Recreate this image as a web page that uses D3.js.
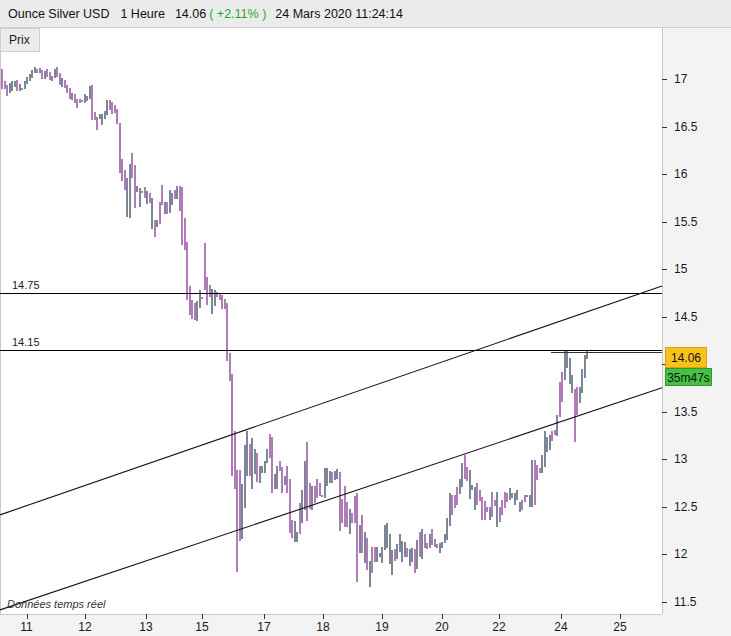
<!DOCTYPE html>
<html><head><meta charset="utf-8">
<script src="https://cdn.jsdelivr.net/npm/d3@7/dist/d3.min.js"></script>
<style>body{margin:0;background:#fff}svg{display:block}</style>
</head><body><svg id="c" width="731" height="636"></svg>
<script>
// Hourly bars: high / low / direction (u = up grey, d = down purple)
const highs = [17.10,16.98,16.94,16.96,16.98,16.98,16.99,16.95,16.91,16.98,17.02,17.05,17.09,17.13,17.10,17.12,17.09,17.08,17.10,17.07,17.03,17.10,17.13,17.06,17.01,16.99,16.94,16.91,16.85,16.84,16.79,16.79,16.78,16.84,16.82,16.93,16.94,16.65,16.60,16.63,16.63,16.66,16.78,16.78,16.76,16.73,16.68,16.54,16.16,16.04,15.96,16.11,16.22,16.10,15.87,15.85,15.82,15.86,15.82,15.80,15.75,15.52,15.52,15.71,15.89,15.71,15.71,15.83,15.80,15.83,15.87,15.87,15.86,15.54,15.29,14.82,14.68,14.64,14.67,14.78,14.71,15.28,14.92,14.83,14.79,14.78,14.76,14.75,14.73,14.69,14.64,14.12,13.90,13.30,12.89,12.89,12.74,13.15,13.30,13.16,13.22,13.11,13.07,12.93,12.93,12.98,13.11,13.27,13.23,12.85,12.93,12.98,12.92,12.83,12.93,12.79,12.36,12.35,12.24,12.54,12.68,12.98,13.18,12.75,12.72,12.72,12.79,12.75,12.63,12.91,12.91,12.88,12.87,12.88,12.90,12.87,12.58,12.72,12.55,12.48,12.44,12.61,12.65,12.31,12.41,12.24,12.17,11.93,12.08,12.08,12.08,12.02,12.08,12.31,12.33,12.21,12.05,12.06,12.11,12.22,12.14,12.13,12.07,12.06,12.07,12.06,12.15,12.24,12.27,12.21,12.12,12.22,12.27,12.16,12.11,12.12,12.13,12.21,12.38,12.65,12.63,12.62,12.71,12.79,12.96,13.05,12.92,12.89,12.73,12.71,12.75,12.68,12.60,12.56,12.50,12.50,12.66,12.57,12.66,12.50,12.57,12.66,12.65,12.70,12.65,12.65,12.68,12.55,12.57,12.63,12.63,12.63,12.99,12.99,12.94,12.91,13.05,13.30,13.23,13.26,13.30,13.31,13.47,13.81,13.92,14.15,14.15,14.07,13.89,13.74,13.76,13.76,13.95,14.10,14.15];
const lows = [16.90,16.90,16.82,16.85,16.87,16.92,16.87,16.87,16.88,16.89,16.95,16.98,17.01,17.06,17.06,17.06,17.00,17.00,17.02,16.99,16.98,17.01,17.02,16.94,16.92,16.91,16.85,16.79,16.78,16.75,16.69,16.75,16.76,16.75,16.77,16.79,16.57,16.57,16.46,16.58,16.52,16.58,16.62,16.67,16.63,16.64,16.53,16.01,15.93,15.83,15.55,15.54,15.96,15.64,15.81,15.65,15.80,15.75,15.69,15.70,15.42,15.34,15.44,15.47,15.67,15.58,15.58,15.59,15.67,15.74,15.74,15.61,15.25,15.20,14.68,14.52,14.48,14.47,14.46,14.59,14.69,14.78,14.62,14.71,14.53,14.61,14.71,14.68,14.58,14.58,14.03,13.82,12.83,12.69,11.82,12.14,12.16,12.49,12.83,12.83,12.69,12.85,12.76,12.75,12.86,12.86,12.96,13.01,12.65,12.69,12.69,12.88,12.65,12.73,12.65,12.23,12.17,12.13,12.13,12.22,12.33,12.47,12.35,12.48,12.47,12.54,12.59,12.61,12.60,12.59,12.72,12.75,12.75,12.78,12.79,12.25,12.33,12.29,12.29,12.22,12.33,12.33,11.71,12.02,12.02,11.91,11.84,11.66,11.81,11.92,11.92,11.97,11.91,12.05,12.07,11.90,11.78,11.93,11.95,12.03,11.92,11.97,11.97,11.88,11.92,11.81,11.85,11.97,11.95,12.07,12.06,12.07,12.10,12.08,12.07,12.02,12.07,12.12,12.15,12.30,12.42,12.49,12.52,12.64,12.71,12.79,12.77,12.58,12.68,12.47,12.52,12.56,12.36,12.36,12.45,12.36,12.39,12.51,12.29,12.34,12.42,12.49,12.55,12.57,12.59,12.52,12.57,12.45,12.47,12.55,12.60,12.50,12.50,12.52,12.78,12.86,12.86,12.92,13.08,13.10,13.19,13.26,13.25,13.45,13.60,13.83,13.96,13.79,13.70,13.18,13.47,13.59,13.70,13.86,14.06];
const dirs = "ddduuududuuuuudududduuddudddudddduuuddduuuuddddddduudduuddudududduduududdddddduudddduudddddddddduuuduuduuuudduudduddduuduuddudddduuuduuddddudddudududduuuuuuuduuuuduudududduddduuuuuddduudduuuddddduddudddduuuuudduuuddduuuuddudduuuudduuuuuudddduuuud";
const yTicks = [11.5,12,12.5,13,13.5,14,14.5,15,15.5,16,16.5,17];
const yHiddenLabel = 14; // covered by the last-price box in the reference
const xTickIdx = [10.2,33.6,58,80.4,105.2,128.8,152.4,176.4,199.2,224,247.6];
const xTickLabels = ["11","12","13","15","17","18","19","20","22","24","25"];
const hLevels = [14.75,14.15];
const trendUpper = [[0,12.42],[264,14.82]];
const trendLower = [[0,11.42],[264,13.75]];
const rayStart = [220,14.13];
const lastPrice = 14.06;

const svg = d3.select("#c");
const W = 731, H = 636, PR = 662, PT = 28, PB = 614;
const x = d3.scaleLinear().domain([-0.4,264.4]).range([0,PR]);
const y = d3.scaleLinear().domain([11.5,17]).range([602,79]);
const font = "'Liberation Sans', Arial, sans-serif";

// backgrounds
svg.append("rect").attr("width",W).attr("height",H).attr("fill","#fff");
svg.append("rect").attr("x",PR).attr("y",PT).attr("width",W-PR).attr("height",H-PT).attr("fill","#f3f3f3");
svg.append("rect").attr("x",0).attr("y",PB).attr("width",W).attr("height",H-PB).attr("fill","#f3f3f3");
svg.append("rect").attr("x",0).attr("y",0).attr("width",W).attr("height",PT).attr("fill","#ebebeb");
svg.append("line").attr("x1",0).attr("x2",W).attr("y1",27.5).attr("y2",27.5).attr("stroke","#cfcfcf");
svg.append("line").attr("x1",0.5).attr("x2",0.5).attr("y1",PT).attr("y2",PB).attr("stroke","#c8c8c8");
svg.append("line").attr("x1",PR+0.5).attr("x2",PR+0.5).attr("y1",PT).attr("y2",PB).attr("stroke","#c8c8c8");
svg.append("line").attr("x1",0).attr("x2",PR).attr("y1",PB+0.5).attr("y2",PB+0.5).attr("stroke","#c8c8c8");

// header
const hdr = svg.append("text").attr("x",8).attr("y",18).attr("font-family",font).attr("font-size",12.5).attr("fill","#111");
hdr.append("tspan").text("Ounce Silver USD");
hdr.append("tspan").attr("dx",11).text("1 Heure");
hdr.append("tspan").attr("dx",10).text("14.06");
hdr.append("tspan").attr("dx",3).attr("fill","#1faa1f").text("( +2.11% )");
hdr.append("tspan").attr("dx",9).text("24 Mars 2020 11:24:14");

// Prix tab
svg.append("rect").attr("x",0.5).attr("y",28.5).attr("width",39).attr("height",23).attr("fill","#ebebeb").attr("stroke","#cfcfcf");
svg.append("text").attr("x",9).attr("y",44).attr("font-family",font).attr("font-size",12).attr("fill","#1a1a1a").text("Prix");

// bars
const data = highs.map((h,i)=>({i,h,l:lows[i],d:dirs[i]}));
svg.append("g").attr("shape-rendering","crispEdges").selectAll("rect").data(data).join("rect")
  .attr("x",d=>Math.round(x(d.i)))
  .attr("width",2)
  .attr("y",d=>y(d.h))
  .attr("height",d=>Math.max(1.5,y(d.l)-y(d.h)))
  .attr("fill",d=>d.d==="u"?"#7b8796":"#b07cb7");

// horizontal levels
hLevels.forEach(v=>{
  svg.append("line").attr("x1",0).attr("x2",PR).attr("y1",Math.round(y(v))+0.5).attr("y2",Math.round(y(v))+0.5).attr("stroke","#000");
  svg.append("text").attr("x",12).attr("y",Math.round(y(v))-4).attr("font-family",font).attr("font-size",11).attr("fill","#222").text(v.toFixed(2));
});
svg.append("line").attr("x1",x(rayStart[0])).attr("x2",PR).attr("y1",Math.round(y(rayStart[1]))+0.5).attr("y2",Math.round(y(rayStart[1]))+0.5).attr("stroke","#333");

// trend channel
const lineGen = d3.line().x(d=>x(d[0])).y(d=>y(d[1]));
[trendUpper,trendLower].forEach(t=>{
  const s = (t[1][1]-t[0][1])/(t[1][0]-t[0][0]);
  const ext = [[-0.4, t[0][1]+s*(-0.4-t[0][0])],[264.4, t[0][1]+s*(264.4-t[0][0])]];
  svg.append("path").attr("d",lineGen(ext)).attr("stroke","#111").attr("stroke-width",1.1).attr("fill","none");
});

// y axis
const ya = svg.append("g").attr("transform",`translate(${PR},0)`);
yTicks.forEach(v=>{
  ya.append("line").attr("x1",0).attr("x2",5).attr("y1",Math.round(y(v))+0.5).attr("y2",Math.round(y(v))+0.5).attr("stroke","#333");
  if (v !== yHiddenLabel)
    ya.append("text").attr("x",12).attr("y",y(v)+4).attr("font-family",font).attr("font-size",12).attr("fill","#1a1a1a").text(d3.format("")(v));
});
// x axis
const xa = svg.append("g");
xTickIdx.forEach((v,k)=>{
  xa.append("line").attr("x1",Math.round(x(v))+0.5).attr("x2",Math.round(x(v))+0.5).attr("y1",PB).attr("y2",PB+5).attr("stroke","#333");
  xa.append("text").attr("x",x(v)).attr("y",631).attr("text-anchor","middle").attr("font-family",font).attr("font-size",12).attr("fill","#1a1a1a").text(xTickLabels[k]);
});

// price labels
const py = y(lastPrice);
svg.append("rect").attr("x",665.5).attr("y",Math.round(py)-11.5).attr("width",41).attr("height",20).attr("fill","#f7c31a").attr("stroke","#d9a21a");
svg.append("text").attr("x",686).attr("y",Math.round(py)+3).attr("text-anchor","middle").attr("font-family",font).attr("font-size",12).attr("fill","#111").text("14.06");
svg.append("rect").attr("x",665.5).attr("y",Math.round(py)+9.5).attr("width",46).attr("height",17).attr("fill","#45c245").attr("stroke","#2f9a2f");
svg.append("text").attr("x",688.5).attr("y",Math.round(py)+22.5).attr("text-anchor","middle").attr("font-family",font).attr("font-size",12).attr("fill","#111").text("35m47s");

svg.append("text").attr("x",7).attr("y",608).attr("font-family",font).attr("font-style","italic").attr("font-size",11).attr("fill","#333").text("Données temps réel");
</script></body></html>
